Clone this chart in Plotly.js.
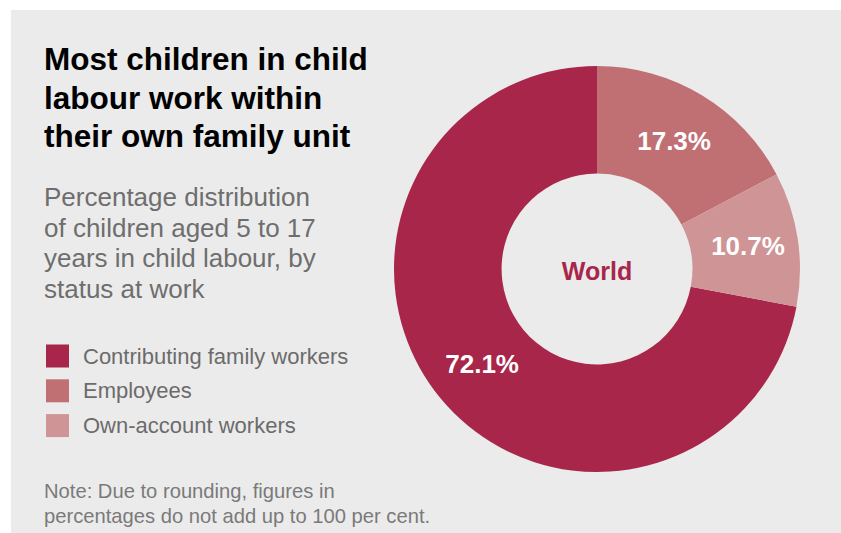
<!DOCTYPE html>
<html>
<head>
<meta charset="utf-8">
<script src="https://cdn.plot.ly/plotly-3.0.1.min.js"></script>
<style>
  html, body { margin: 0; padding: 0; background: #ffffff; }
  #chart { position: absolute; left: 11px; top: 10px; width: 830px; height: 523px; }
</style>
</head>
<body>
<div id="chart"></div>
<script>
// ---- Data ----
const categories = ["Contributing family workers", "Employees", "Own-account workers"];
const percentages = [72.1, 17.3, 10.7];
const colors = ["#a8264a", "#c07073", "#cf9596"];
const centerLabel = "World";
const titleLines = ["Most children in child", "labour work within", "their own family unit"];
const subtitleLines = ["Percentage distribution", "of children aged 5 to 17", "years in child labour, by", "status at work"];
const noteLines = ["Note: Due to rounding, figures in", "percentages do not add up to 100 per cent."];

// ---- Layout helpers (div is 830 x 523) ----
const W = 830, H = 523;
const px = v => v / W;
const py = v => 1 - v / H;
const FONT = "Liberation Sans, Arial, Helvetica, sans-serif";

// Rotation so that Employees begins at 12 o'clock (clockwise), Contributing last
const total = percentages.reduce((a, b) => a + b, 0);
const startAngle = (percentages[1] + percentages[2]) / total * 360;

const trace = {
  type: "pie",
  labels: categories,
  values: percentages,
  sort: false,
  direction: "clockwise",
  rotation: startAngle,
  hole: 0.47,
  marker: { colors: colors, line: { width: 0 } },
  texttemplate: "%{value:.1f}%",
  textposition: "inside",
  insidetextorientation: "horizontal",
  insidetextfont: { family: FONT, size: 26, color: "#ffffff", weight: "bold" },
  title: { text: "<b>" + centerLabel + "</b>", position: "middle center",
           font: { family: FONT, size: 25, color: colors[0] } },
  domain: { x: [383 / W, 789 / W], y: [61 / H, 467 / H] },
  hoverinfo: "skip",
  showlegend: false
};

const annotations = [];
const shapes = [];

titleLines.forEach((t, i) => {
  annotations.push({
    xref: "paper", yref: "paper", x: px(31), y: py(49 + i * 38.5),
    xanchor: "left", yanchor: "middle", showarrow: false, align: "left",
    text: "<b>" + t + "</b>",
    font: { family: FONT, size: 31.5, color: "#000000" }
  });
});

subtitleLines.forEach((t, i) => {
  annotations.push({
    xref: "paper", yref: "paper", x: px(31), y: py(187 + i * 30.5),
    xanchor: "left", yanchor: "middle", showarrow: false, align: "left",
    text: t,
    font: { family: FONT, size: 26, color: "#6e6e6e" }
  });
});

categories.forEach((c, i) => {
  const cy = 346 + i * 34.8;
  shapes.push({
    type: "rect", xref: "paper", yref: "paper",
    x0: px(35), x1: px(58), y0: py(cy - 11.5), y1: py(cy + 11.5),
    fillcolor: colors[i], line: { width: 0 }
  });
  annotations.push({
    xref: "paper", yref: "paper", x: px(70), y: py(cy),
    xanchor: "left", yanchor: "middle", showarrow: false, align: "left",
    text: c,
    font: { family: FONT, size: 22, color: "#6b6b6b" }
  });
});

noteLines.forEach((t, i) => {
  annotations.push({
    xref: "paper", yref: "paper", x: px(31), y: py(481 + i * 25),
    xanchor: "left", yanchor: "middle", showarrow: false, align: "left",
    text: t,
    font: { family: FONT, size: 20.2, color: "#7a7a7a" }
  });
});

const layout = {
  width: W, height: H,
  margin: { l: 0, r: 0, t: 0, b: 0, pad: 0 },
  paper_bgcolor: "#ebebeb",
  plot_bgcolor: "#ebebeb",
  showlegend: false,
  annotations: annotations,
  shapes: shapes
};

Plotly.newPlot("chart", [trace], layout, { displayModeBar: false, staticPlot: true });
</script>
</body>
</html>
